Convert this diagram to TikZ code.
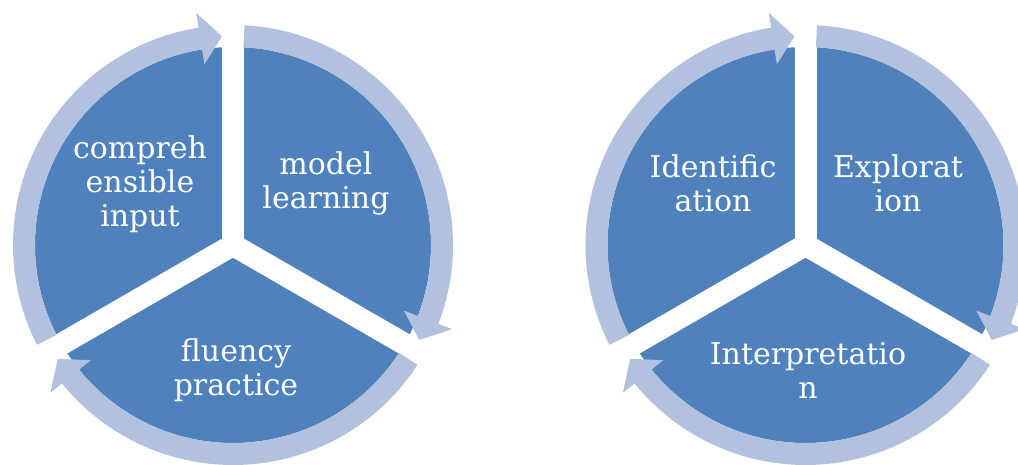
\documentclass[tikz,border=0pt]{standalone}
\usepackage{fontspec}
\setmainfont{DejaVu Serif}
\definecolor{segblue}{RGB}{79,129,189}
\definecolor{ringblue}{RGB}{178,193,222}
\tikzset{
  segment/.style={fill=segblue},
  ring/.style={fill=ringblue},
  gap/.style={draw=white,line width=22pt},
  steplabel/.style={text=white,align=center,inner sep=0pt,
    font=\fontsize{30}{34}\selectfont}
}
\begin{document}
\begin{tikzpicture}[x=1pt,y=1pt]
  \useasboundingbox (0,0) rectangle (1018,465);
  \clip (0,0) rectangle (1018,465);

  % first cycle
  \begin{scope}[shift={(233,220)}]
    \fill[segment] (0,0) -- (90:198) arc[start angle=90,end angle=-30,radius=198] -- cycle;
    \fill[segment] (0,0) -- (-30:198) arc[start angle=-30,end angle=-150,radius=198] -- cycle;
    \fill[segment] (0,0) -- (210:198) arc[start angle=210,end angle=90,radius=198] -- cycle;
    \draw[gap] (0,0) -- (90:200);
    \draw[gap] (0,0) -- (-30:200);
    \draw[gap] (0,0) -- (210:200);
    \fill[ring] (87:220) arc[start angle=87,end angle=-21,radius=220] -- (-21:235) -- (-27:209)
      -- (-21:183) -- (-21:198) arc[start angle=-21,end angle=87,radius=198] -- cycle;
    \fill[ring] (-33:220) arc[start angle=-33,end angle=-141,radius=220] -- (-141:235) -- (-147:209)
      -- (-141:183) -- (-141:198) arc[start angle=-141,end angle=-33,radius=198] -- cycle;
    \fill[ring] (207:220) arc[start angle=207,end angle=99,radius=220] -- (99:235) -- (93:209)
      -- (99:183) -- (99:198) arc[start angle=99,end angle=207,radius=198] -- cycle;
  \end{scope}
  \node[steplabel] (input) at (140,281) {compreh\\ensible\\input};
  \node[steplabel] (model) at (326,281.5) {model\\learning};
  \node[steplabel] (fluency) at (236,95) {fluency\\practice};

  % second cycle
  \begin{scope}[shift={(805.5,220)}]
    \fill[segment] (0,0) -- (90:198) arc[start angle=90,end angle=-30,radius=198] -- cycle;
    \fill[segment] (0,0) -- (-30:198) arc[start angle=-30,end angle=-150,radius=198] -- cycle;
    \fill[segment] (0,0) -- (210:198) arc[start angle=210,end angle=90,radius=198] -- cycle;
    \draw[gap] (0,0) -- (90:200);
    \draw[gap] (0,0) -- (-30:200);
    \draw[gap] (0,0) -- (210:200);
    \fill[ring] (87:220) arc[start angle=87,end angle=-21,radius=220] -- (-21:235) -- (-27:209)
      -- (-21:183) -- (-21:198) arc[start angle=-21,end angle=87,radius=198] -- cycle;
    \fill[ring] (-33:220) arc[start angle=-33,end angle=-141,radius=220] -- (-141:235) -- (-147:209)
      -- (-141:183) -- (-141:198) arc[start angle=-141,end angle=-33,radius=198] -- cycle;
    \fill[ring] (207:220) arc[start angle=207,end angle=99,radius=220] -- (99:235) -- (93:209)
      -- (99:183) -- (99:198) arc[start angle=99,end angle=207,radius=198] -- cycle;
  \end{scope}
  \node[steplabel] (identification) at (713,281.5) {Identific\\ation};
  \node[steplabel] (exploration) at (898,281.5) {Explorat\\ion};
  \node[steplabel] (interpretation) at (808,95) {Interpretatio\\n};
\end{tikzpicture}
\end{document}
